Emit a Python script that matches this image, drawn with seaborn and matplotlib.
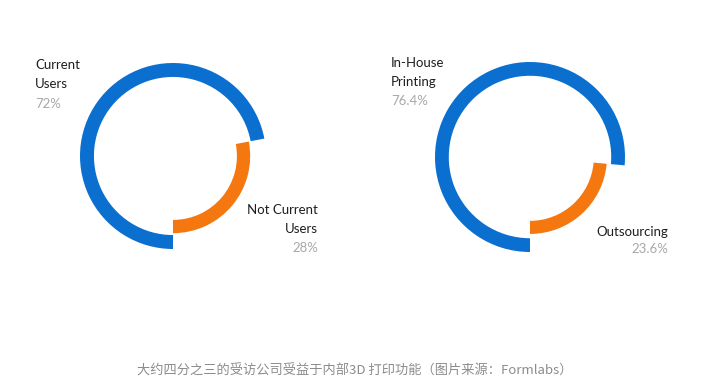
import numpy as np
import matplotlib
matplotlib.use("Agg")
from matplotlib import pyplot as plt
import seaborn as sns

# data
left_labels = ["Current\nUsers", "Not Current\nUsers"]
left_values = [72, 28]
left_pct = ["72%", "28%"]
right_labels = ["In-House\nPrinting", "Outsourcing"]
right_values = [76.4, 23.6]
right_pct = ["76.4%", "23.6%"]
caption = "大约四分之三的受访公司受益于内部3D 打印功能（图片来源：Formlabs）"

blue = "#0b6fcf"
orange = "#f5770f"
grey = "#a8a8a8"

sns.set_theme(style="white")
plt.rcParams['font.family'] = ['Lato', 'DejaVu Sans']

W, H = 724, 392
fig = plt.figure(figsize=(W / 100, H / 100), dpi=100)
fig.patch.set_facecolor("white")

# background axes in pixel coords for the text
bg = fig.add_axes([0, 0, 1, 1])
bg.set_xlim(0, W)
bg.set_ylim(H, 0)
bg.axis("off")


def donut(cx, cy, r, values, inner_r, width):
    ax = fig.add_axes([(cx - r) / W, 1 - (cy + r) / H, 2 * r / W, 2 * r / H])
    ax.pie(values, radius=1.0, colors=[blue, "none"], startangle=-90,
           counterclock=False, wedgeprops=dict(width=width, linewidth=0))
    ax.pie(values, radius=inner_r, colors=["none", orange], startangle=-90,
           counterclock=False, wedgeprops=dict(width=width * 0.95, linewidth=0))
    ax.set_xlim(-1, 1)
    ax.set_ylim(-1, 1)
    ax.axis("off")
    return ax


donut(173, 156, 93, left_values, 0.83, 0.15)
donut(530, 157, 95, right_values, 0.81, 0.145)

fs = 9.5
dark = "#1e1e1e"
ls = 1.7
# left chart labels (va baseline on multiline text = last line baseline)
bg.text(35, 88, left_labels[0], fontsize=fs, color=dark, va="baseline",
        ha="left", linespacing=ls)
bg.text(35, 108, left_pct[0], fontsize=fs, color=grey, va="baseline", ha="left")
bg.text(318, 233, left_labels[1], fontsize=fs, color=dark, va="baseline",
        ha="right", multialignment="right", linespacing=ls)
bg.text(318, 252, left_pct[1], fontsize=fs, color=grey, va="baseline", ha="right")

# right chart labels
bg.text(391, 86, right_labels[0], fontsize=fs, color=dark, va="baseline",
        ha="left", linespacing=ls)
bg.text(391, 105, right_pct[0], fontsize=fs, color=grey, va="baseline", ha="left")
bg.text(668, 236, right_labels[1], fontsize=fs, color=dark, va="baseline",
        ha="right")
bg.text(668, 253, right_pct[1], fontsize=fs, color=grey, va="baseline", ha="right")

bg.text(355, 371, caption, fontsize=9.5, color="#8c8c8c", ha="center", va="center",
        style="italic", family=['Noto Sans CJK SC', 'DejaVu Sans'])

plt.savefig("out.png", dpi=100, facecolor="white")
